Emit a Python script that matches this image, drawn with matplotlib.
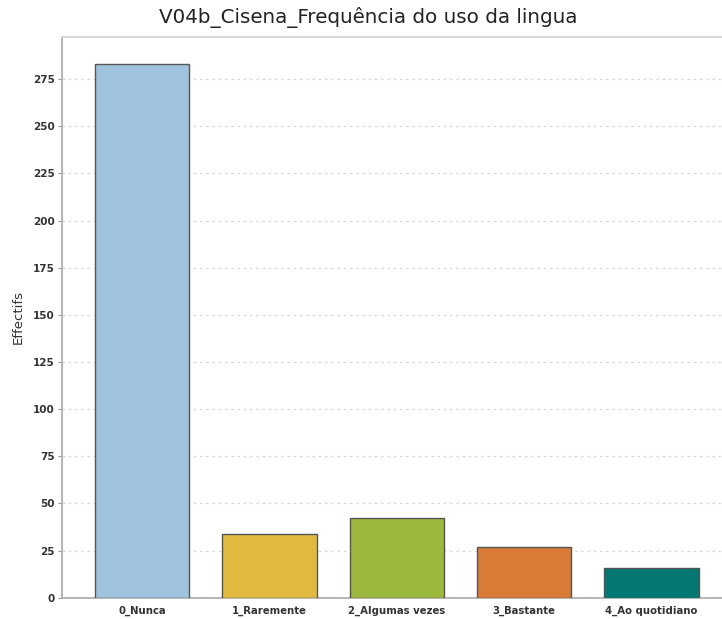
import matplotlib
matplotlib.use("Agg")
import matplotlib.pyplot as plt
from matplotlib.ticker import MultipleLocator

categories = ["0_Nunca", "1_Raremente", "2_Algumas vezes", "3_Bastante", "4_Ao quotidiano"]
counts = [283, 34, 42, 27, 16]
colors = ["#9fc3dc", "#e2b93f", "#9cb93d", "#d97a36", "#037772"]
title = "V04b_Cisena_Frequência do uso da lingua"
ylabel = "Effectifs"

fig = plt.figure(figsize=(7.22, 6.19), dpi=100)
ax = fig.add_axes([62 / 722, 21.3 / 619, 669.5 / 722, 560.7 / 619])

x = list(range(len(categories)))
ax.bar(x, counts, width=0.74, color=colors, edgecolor="#555555", linewidth=1.0, zorder=3)

ax.set_xlim(-0.628, 4.628)
ax.set_ylim(0, 297.3)
ax.yaxis.set_major_locator(MultipleLocator(25))
ax.set_xticks(x)
ax.set_xticklabels(categories, fontsize=7.3, fontweight="bold", color="#333333")
ax.tick_params(axis="x", length=0, pad=6)
ax.tick_params(axis="y", length=3, width=0.8, color="#999999", labelsize=7.5,
               labelcolor="#333333", pad=2)
for lab in ax.get_yticklabels():
    lab.set_fontweight("bold")

ax.grid(axis="y", linestyle=(0, (2, 3)), color="#d6d6d6", linewidth=0.9, zorder=0)

ax.spines["left"].set_color("#b0b0b0")
ax.spines["left"].set_linewidth(1.3)
ax.spines["bottom"].set_color("#b0b0b0")
ax.spines["bottom"].set_linewidth(1.3)
ax.spines["top"].set_color("#d4d4d4")
ax.spines["top"].set_linewidth(1.3)
ax.spines["right"].set_visible(False)

ax.set_ylabel(ylabel, fontsize=9.5, color="#333333", labelpad=6)

fig.text(368 / 722, 1 - 18 / 619, title, ha="center", va="center", fontsize=14.3,
         color="#222222")

fig.savefig("out.png", dpi=100)
